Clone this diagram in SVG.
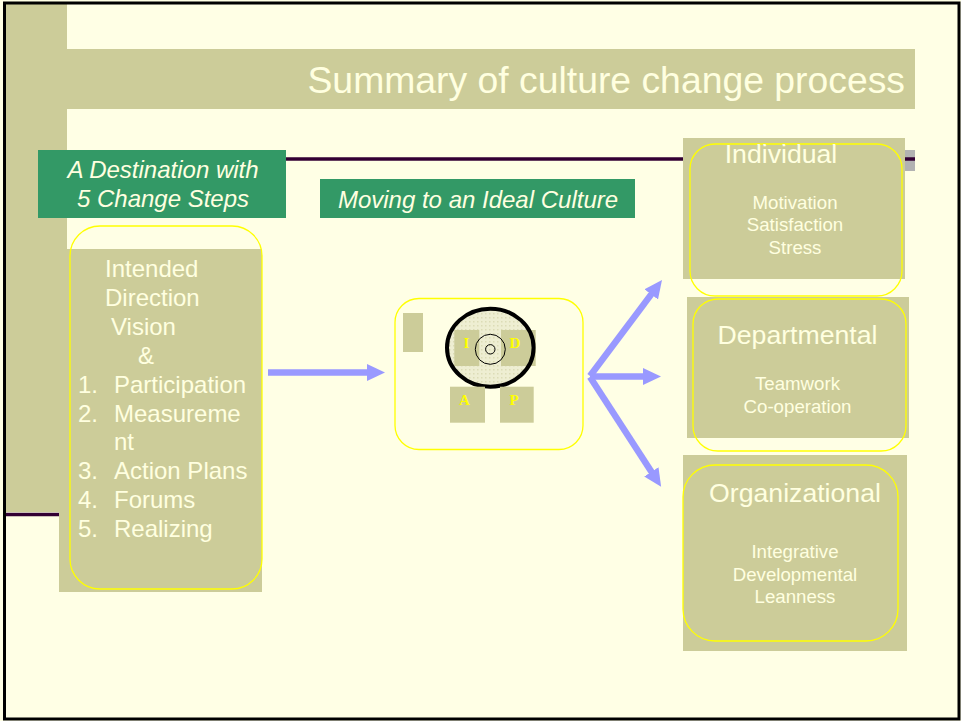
<svg xmlns="http://www.w3.org/2000/svg" width="961" height="721" viewBox="0 0 961 721">
  <style>
    .olive { fill: #CCCC99; }
    .halo { fill: none; stroke: #FFFF00; stroke-width: 1.3; }
    .cream { fill: #FFFFE0; font-family: "Liberation Sans", Arial, sans-serif; }
    .green { fill: #339966; }
    .lbl { font-size: 24px; font-style: italic; text-anchor: middle; }
    .step { font-size: 24px; }
    .head { font-size: 26.67px; text-anchor: middle; }
    .sub { font-size: 18.67px; text-anchor: middle; }
    .letter { fill: #FFFF00; font-family: "Liberation Serif", "Times New Roman", serif; font-weight: bold; font-size: 15px; text-anchor: middle; }
    .rule { stroke: #330033; stroke-width: 3.5; }
    .flow { stroke: #9999FF; stroke-width: 6.5; fill: none; marker-end: url(#head); }
  </style>
  <defs>
    <marker id="head" viewBox="0 0 18 17" refX="1" refY="8.5" markerWidth="18" markerHeight="17" markerUnits="userSpaceOnUse" orient="auto">
      <path d="M0,0 L18,8.5 L0,17 Z" fill="#9999FF"/>
    </marker>
    <pattern id="grain" width="4" height="4" patternUnits="userSpaceOnUse">
      <rect width="4" height="4" fill="#EEEED2"/>
      <rect x="1" y="1" width="1.5" height="1.5" fill="#DCDCB6"/>
    </pattern>
  </defs>

  <!-- slide background and frame -->
  <rect width="961" height="721" fill="#FFFFE5"/>

  <!-- left band and its foot rule -->
  <rect class="olive" x="6" y="4" width="61" height="508"/>
  <line class="rule" x1="6" y1="514.5" x2="67" y2="514.5"/>

  <!-- title band -->
  <g id="title">
    <rect class="olive" x="67" y="49" width="848" height="60"/>
    <text class="cream" x="905" y="93" font-size="37.33" text-anchor="end">Summary of culture change process</text>
  </g>

  <!-- rule under the title band -->
  <rect x="905" y="150" width="10" height="21" fill="#B2B2B2"/>
  <line class="rule" x1="67" y1="159" x2="915" y2="159"/>

  <g id="destination-label">
    <rect class="green" x="38" y="150" width="248" height="68"/>
    <text class="cream lbl" x="163" y="178">A Destination with</text>
    <text class="cream lbl" x="163" y="207">5 Change Steps</text>
  </g>

  <g id="ideal-culture-label">
    <rect class="green" x="320" y="179" width="315" height="39"/>
    <text class="cream lbl" x="478" y="208">Moving to an Ideal Culture</text>
  </g>

  <g id="steps">
    <rect class="olive" x="59" y="249" width="203" height="343"/>
    <rect class="halo" x="70" y="226" width="192" height="363" rx="30"/>
    <g class="cream step">
      <text x="105" y="277">Intended</text>
      <text x="105" y="306">Direction</text>
      <text x="111" y="335">Vision</text>
      <text x="138" y="364">&amp;</text>
      <text x="78" y="393">1.</text><text x="114" y="393">Participation</text>
      <text x="78" y="422">2.</text><text x="114" y="422">Measureme</text>
      <text x="114" y="450">nt</text>
      <text x="78" y="479">3.</text><text x="114" y="479">Action Plans</text>
      <text x="78" y="508">4.</text><text x="114" y="508">Forums</text>
      <text x="78" y="537">5.</text><text x="114" y="537">Realizing</text>
    </g>
  </g>

  <g id="culture-cycle">
    <rect class="halo" x="395" y="298.5" width="188" height="151" rx="24"/>
    <rect class="olive" x="403" y="313" width="20" height="39"/>
    <ellipse cx="490.3" cy="347.7" rx="43.3" ry="39" fill="url(#grain)"/>
    <rect class="olive" x="454.3" y="330" width="25" height="36"/>
    <rect class="olive" x="501" y="330" width="34.7" height="36"/>
    <ellipse cx="490.3" cy="347.7" rx="43.3" ry="39" fill="none" stroke="#000" stroke-width="4"/>
    <circle cx="490.3" cy="349.3" r="15" fill="none" stroke="#000" stroke-width="1"/>
    <circle cx="490.3" cy="349.3" r="4.7" fill="none" stroke="#000" stroke-width="1"/>
    <text class="letter" x="466.5" y="348">I</text>
    <text class="letter" x="515" y="348">D</text>
    <rect class="olive" x="450" y="386.7" width="35" height="36"/>
    <rect class="olive" x="500" y="386.7" width="33.7" height="36"/>
    <text class="letter" x="464.5" y="405">A</text>
    <text class="letter" x="514" y="405">P</text>
  </g>

  <g id="individual">
    <rect class="olive" x="683" y="138" width="222" height="141"/>
    <rect class="halo" x="690" y="144" width="212" height="152" rx="25"/>
    <text class="cream head" x="781" y="163">Individual</text>
    <text class="cream sub" x="795" y="208.5">Motivation</text>
    <text class="cream sub" x="795" y="231">Satisfaction</text>
    <text class="cream sub" x="795" y="253.5">Stress</text>
  </g>

  <g id="departmental">
    <rect class="olive" x="687" y="297" width="222" height="141"/>
    <rect class="halo" x="693" y="299" width="213" height="152" rx="25"/>
    <text class="cream head" x="797.5" y="343.5">Departmental</text>
    <text class="cream sub" x="797.5" y="390">Teamwork</text>
    <text class="cream sub" x="797.5" y="412.5">Co-operation</text>
  </g>

  <g id="organizational">
    <rect class="olive" x="683" y="455" width="224" height="196"/>
    <rect class="halo" x="683" y="465" width="215" height="176" rx="32"/>
    <text class="cream head" x="795" y="502">Organizational</text>
    <text class="cream sub" x="795" y="557.5">Integrative</text>
    <text class="cream sub" x="795" y="580.5">Developmental</text>
    <text class="cream sub" x="795" y="603">Leanness</text>
  </g>

  <g id="connectors">
    <line class="flow" x1="268" y1="372.5" x2="368" y2="372.5"/>
    <line class="flow" x1="590" y1="376.5" x2="644" y2="376.5"/>
    <line class="flow" x1="590" y1="376" x2="651.8" y2="293.6"/>
    <line class="flow" x1="590" y1="377" x2="651.9" y2="472.6"/>
  </g>

  <rect x="4.5" y="3" width="954.5" height="716" fill="none" stroke="#000" stroke-width="3"/>
</svg>
